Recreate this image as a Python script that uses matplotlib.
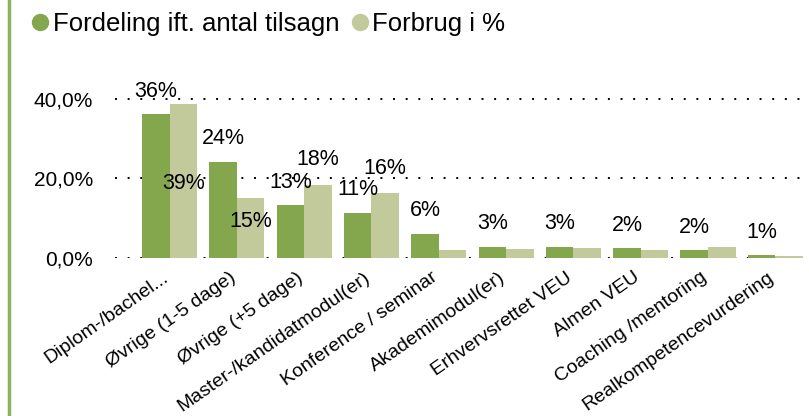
import matplotlib as mpl
mpl.use("Agg")
from matplotlib import pyplot as plt
from matplotlib.lines import Line2D
from matplotlib.transforms import ScaledTranslation
import numpy as np

plt.rcParams['font.family'] = ['Liberation Sans', 'DejaVu Sans']

categories = ['Diplom-/bachel...', 'Øvrige (1-5 dage)', 'Øvrige (+5 dage)',
              'Master-/kandidatmodul(er)', 'Konference / seminar', 'Akademimodul(er)',
              'Erhvervsrettet VEU', 'Almen VEU', 'Coaching /mentoring',
              'Realkompetencevurdering']
tilsagn = [36.1, 24.2, 13.3, 11.4, 6.1, 2.8, 2.8, 2.4, 1.9, 0.7]
forbrug = [38.8, 15.2, 18.4, 16.4, 2.1, 2.3, 2.5, 1.9, 2.8, 0.5]
# label offsets (px) for the light series, None = no label shown
forbrug_label_dy = [-80, -24, 25, 24, None, None, None, None, None, None]
yticks = [0, 20, 40]

dark = '#84a74e'
light = '#c2ca9c'

fig = plt.figure(figsize=(8.09, 4.16), dpi=100)
ax = fig.add_axes([115/809, 1-258/416, 690/809, (258-79)/416])

x = np.arange(len(categories))
w = 0.41
ax.bar(x - w/2, tilsagn, w, color=dark, zorder=3)
ax.bar(x + w/2, forbrug, w, color=light, zorder=3)

ax.set_xlim(-0.81, 9.44)
ax.set_ylim(0, 45)
ax.set_yticks(yticks)
ax.set_yticklabels([f'{t:.1f}%'.replace('.', ',') for t in yticks], fontsize=15)
for t in yticks:
    ax.axhline(t, color='black', lw=1.4, ls=(0, (1, 5.5)), zorder=1)
for s in ax.spines.values():
    s.set_visible(False)
ax.tick_params(length=0)
ax.tick_params(axis='y', pad=16)

ax.set_xticks(x)
ax.set_xticklabels(categories, rotation=35, ha='right', va='top',
                   rotation_mode='anchor', fontsize=14)
ax.tick_params(axis='x', pad=5)
shift = ScaledTranslation(-8/100, -4/100, fig.dpi_scale_trans)
for lbl in ax.get_xticklabels():
    lbl.set_transform(lbl.get_transform() + shift)

px = 72 / 100
for i, v in enumerate(tilsagn):
    ax.annotate(f'{v:.0f}%', (x[i] - w/2, v), xytext=(0, 23*px), textcoords='offset points',
                ha='center', va='center', fontsize=15.5, zorder=5)
for i, v in enumerate(forbrug):
    dy = forbrug_label_dy[i]
    if dy is None:
        continue
    ax.annotate(f'{v:.0f}%', (x[i] + w/2, v), xytext=(0, dy*px), textcoords='offset points',
                ha='center', va='center', fontsize=15.5, zorder=5)

handles = [Line2D([0], [0], marker='o', lw=0, markersize=11.5, color=dark),
           Line2D([0], [0], marker='o', lw=0, markersize=11.5, color=light)]
fig.legend(handles, ['Fordeling ift. antal tilsagn', 'Forbrug i %'], loc='upper left',
           bbox_to_anchor=(14/809, 1.015), ncol=2, frameon=False, fontsize=18.5,
           handlelength=0.6, handletextpad=0.2, columnspacing=0.5, borderaxespad=0.3)

fig.add_artist(Line2D([9/809, 9/809], [0, 1], color='#8ab35a', lw=2.5))

fig.savefig('out.png', dpi=100)
